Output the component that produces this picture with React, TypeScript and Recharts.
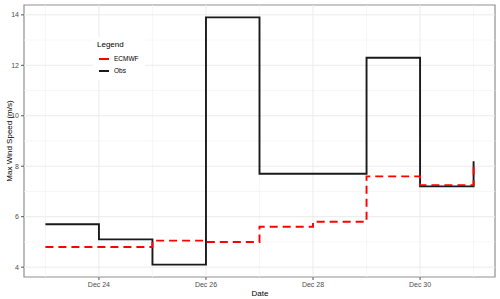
import { LineChart, Line, XAxis, YAxis, ReferenceLine, ReferenceArea } from 'recharts';

const days = [23, 24, 25, 26, 27, 28, 29, 30, 31];
const obs = [5.7, 5.1, 4.1, 13.9, 7.7, 7.7, 12.3, 7.2, 8.2];
const ecmwf = [4.8, 4.8, 5.05, 5.0, 5.6, 5.8, 7.6, 7.25, 8.15];

const xTicks = [24, 26, 28, 30];
const xMinor = [23, 25, 27, 29, 31];
const yTicks = [4, 6, 8, 10, 12, 14];
const yMinor = [5, 7, 9, 11, 13];

const X_DOMAIN: [number, number] = [22.6, 31.4];
const Y_DOMAIN: [number, number] = [3.61, 14.39];

const chartData = days.map((d, i) => ({ day: d, Obs: obs[i], ECMWF: ecmwf[i] }));

const FONT = '"Liberation Sans", Arial, sans-serif';

export default function App() {
  return (
    <div style={{ position: 'absolute', left: 0, top: 0, width: 500, height: 299, fontFamily: FONT, background: '#fff' }}>
      <LineChart width={500} height={299} data={chartData} margin={{ top: 5, right: 5, bottom: 0, left: 0 }}>
        <XAxis
          dataKey="day"
          type="number"
          domain={X_DOMAIN}
          ticks={xTicks}
          allowDataOverflow
          tickFormatter={(v: number) => `Dec ${v}`}
          tick={{ fontSize: 7, fill: '#4d4d4d', fontFamily: FONT }}
          axisLine={false}
          tickLine={{ stroke: '#555' }}
          tickSize={3}
          height={22}
        />
        <YAxis
          type="number"
          domain={Y_DOMAIN}
          ticks={yTicks}
          allowDataOverflow
          tick={{ fontSize: 7, fill: '#4d4d4d', fontFamily: FONT }}
          axisLine={false}
          tickLine={{ stroke: '#555' }}
          tickSize={3}
          width={24}
        />

        {/* grid, ggplot theme_bw style */}
        {yMinor.map((v) => (
          <ReferenceLine key={`ym-${v}`} y={v} stroke="#f3f3f3" strokeWidth={0.7} />
        ))}
        {xMinor.map((v) => (
          <ReferenceLine key={`xm-${v}`} x={v} stroke="#f3f3f3" strokeWidth={0.7} />
        ))}
        {yTicks.map((v) => (
          <ReferenceLine key={`yM-${v}`} y={v} stroke="#ebebeb" strokeWidth={1} />
        ))}
        {xTicks.map((v) => (
          <ReferenceLine key={`xM-${v}`} x={v} stroke="#ebebeb" strokeWidth={1} />
        ))}

        <Line
          dataKey="Obs"
          type="stepAfter"
          stroke="#1a1a1a"
          strokeWidth={1.9}
          dot={false}
          isAnimationActive={false}
        />
        <Line
          dataKey="ECMWF"
          type="stepAfter"
          stroke="#ff0000"
          strokeWidth={1.9}
          strokeDasharray="8 5"
          dot={false}
          isAnimationActive={false}
        />

        {/* panel border */}
        <ReferenceArea
          x1={X_DOMAIN[0]}
          x2={X_DOMAIN[1]}
          y1={Y_DOMAIN[0]}
          y2={Y_DOMAIN[1]}
          fill="none"
          fillOpacity={0}
          stroke="#8f8f8f"
          strokeWidth={1.2}
        />
      </LineChart>

      {/* axis titles */}
      <div
        style={{
          position: 'absolute',
          left: 8.5,
          top: 141,
          transform: 'translate(-50%, -50%) rotate(-90deg)',
          fontSize: 8,
          color: '#000',
          whiteSpace: 'nowrap',
        }}
      >
        Max Wind Speed (m/s)
      </div>
      <div
        style={{
          position: 'absolute',
          left: 260,
          top: 292.5,
          transform: 'translate(-50%, -50%)',
          fontSize: 8,
          color: '#000',
        }}
      >
        Date
      </div>

      {/* legend */}
      <div
        style={{
          position: 'absolute',
          left: 93,
          top: 37,
          width: 52,
          height: 43,
          background: '#fff',
        }}
      >
        <div style={{ position: 'absolute', left: 4, top: 3, fontSize: 8, color: '#000', lineHeight: '10px' }}>Legend</div>
        {[
          { name: 'ECMWF', color: '#ff0000', top: 22 },
          { name: 'Obs', color: '#1a1a1a', top: 34 },
        ].map((item) => (
          <div key={item.name} style={{ position: 'absolute', left: 6, top: item.top, height: 0 }}>
            <div style={{ position: 'absolute', left: 0, top: -1, width: 10, height: 2, background: item.color }} />
            <div style={{ position: 'absolute', left: 15, top: -5, fontSize: 6.5, color: '#000', whiteSpace: 'nowrap', lineHeight: '10px' }}>
              {item.name}
            </div>
          </div>
        ))}
      </div>
    </div>
  );
}
